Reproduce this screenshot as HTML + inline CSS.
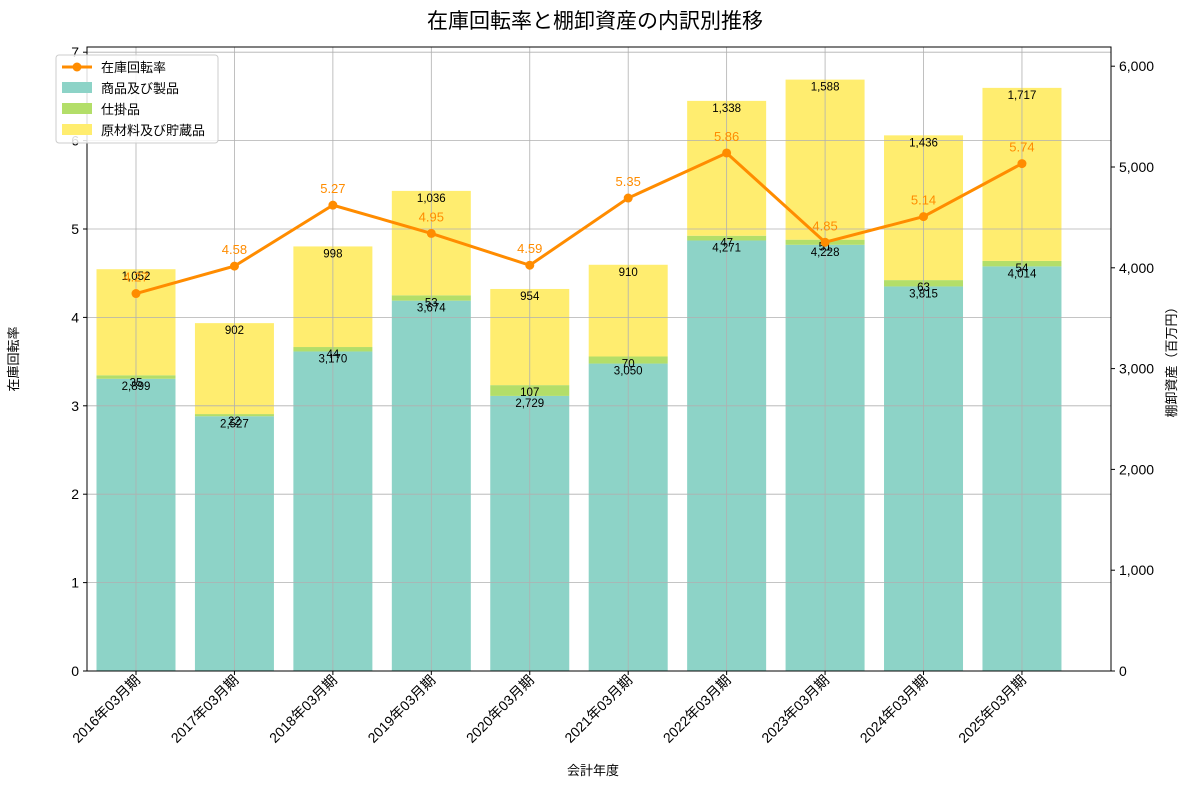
<!DOCTYPE html>
<html><head><meta charset="utf-8"><style>
body{margin:0;background:#fff;font-family:"Liberation Sans","Noto Sans CJK JP",sans-serif;}
svg text{font-family:"Liberation Sans","Noto Sans CJK JP",sans-serif;}
</style></head><body>
<svg id="chart" width="1190" height="789" xmlns="http://www.w3.org/2000/svg">
<text x="595" y="28" font-size="21" text-anchor="middle">在庫回転率と棚卸資産の内訳別推移</text>
<g id="bars"></g><g id="grid"></g><g id="line"></g><g id="axes"></g>
<text x="18" y="359" font-size="13" text-anchor="middle" transform="rotate(-90 18 359)">在庫回転率</text>
<text x="1176" y="359" font-size="13" text-anchor="middle" transform="rotate(-90 1176 359)">棚卸資産（百万円）</text>
<text x="593" y="775" font-size="13" text-anchor="middle">会計年度</text>
<g>
<rect x="56" y="55" width="162" height="88" fill="#fff" fill-opacity="0.85" stroke="#ccc" rx="3"/>
<line x1="62" y1="67" x2="92" y2="67" stroke="#ff8c00" stroke-width="3"/><circle cx="77" cy="67" r="4.5" fill="#ff8c00"/>
<text x="101" y="72" font-size="13">在庫回転率</text>
<rect x="62" y="82" width="30" height="11" fill="#8dd3c7"/><text x="101" y="93" font-size="13">商品及び製品</text>
<rect x="62" y="103" width="30" height="11" fill="#b3de69"/><text x="101" y="114" font-size="13">仕掛品</text>
<rect x="62" y="124" width="30" height="11" fill="#ffed6f"/><text x="101" y="135" font-size="13">原材料及び貯蔵品</text>
</g>
</svg>
<script>
const categories=["2016年03月期","2017年03月期","2018年03月期","2019年03月期","2020年03月期","2021年03月期","2022年03月期","2023年03月期","2024年03月期","2025年03月期"];
const goods=[2899,2527,3170,3674,2729,3050,4271,4228,3815,4014];
const wip=[35,22,44,53,107,70,47,51,63,54];
const raw=[1052,902,998,1036,954,910,1338,1588,1436,1717];
const turnover=[4.27,4.58,5.27,4.95,4.59,5.35,5.86,4.85,5.14,5.74];
const leftTicks=[0,1,2,3,4,5,6,7];
const rightTicks=[0,1000,2000,3000,4000,5000,6000];
const NS="http://www.w3.org/2000/svg";
const L=87,R=1111,T=47,B=671;
const xs=i=>136+98.44*i;
const yL=v=>B-v*88.4;
const yR=v=>B-v*0.1008;
const bw=79;
function mk(tag,attrs,parent,text){const e=document.createElementNS(NS,tag);for(const k in attrs)e.setAttribute(k,attrs[k]);if(text!==undefined)e.textContent=text;document.getElementById(parent).appendChild(e);return e;}
const fmt=v=>v.toLocaleString('en-US');
leftTicks.forEach(v=>{const g=mk('line',{x1:L,x2:R,y1:yL(v),y2:yL(v),stroke:'#b0b0b0','stroke-width':0.8},'grid');


const t=mk('text',{x:L-8,y:yL(v)+5,'font-size':14,'text-anchor':'end'},'axes',String(v));


mk('line',{x1:L-4,x2:L,y1:yL(v),y2:yL(v),stroke:'#000'},'axes');});
rightTicks.forEach(v=>{const t=mk('text',{x:R+8,y:yR(v)+5,'font-size':14},'axes',fmt(v));


mk('line',{x1:R,x2:R+4,y1:yR(v),y2:yR(v),stroke:'#000'},'axes');});
categories.forEach((c,i)=>{const x=xs(i);
const g=mk('line',{x1:x,x2:x,y1:T,y2:B,stroke:'#b0b0b0','stroke-width':0.8},'grid');


mk('line',{x1:x,x2:x,y1:B,y2:B+4,stroke:'#000'},'axes');
const t=mk('text',{x:x+5,y:B+10,'font-size':14,'text-anchor':'end',transform:`rotate(-45 ${x+5} ${B+10})`},'axes',c);


const segs=[[goods[i],'#8dd3c7','bar-goods'],[wip[i],'#b3de69','bar-wip'],[raw[i],'#ffed6f','bar-raw']];
let base=0;
segs.forEach(s=>{const top=base+s[0];
const r=mk('rect',{x:x-bw/2,y:yR(top),width:bw,height:yR(base)-yR(top),fill:s[1]},'bars');


base=top;});
base=0;
segs.forEach(s=>{const top=base+s[0];
const t=mk('text',{x:x,y:yR(top)+11,'font-size':11.5,'text-anchor':'middle'},'line',fmt(s[0]));


base=top;});
});
const pts=turnover.map((v,i)=>xs(i)+','+yL(v)).join(' ');
const pl=mk('polyline',{points:pts,fill:'none',stroke:'#ff8c00','stroke-width':3},'line');


turnover.forEach((v,i)=>{const c=mk('circle',{cx:xs(i),cy:yL(v),r:4.5,fill:'#ff8c00'},'line');


const t=mk('text',{x:xs(i),y:yL(v)-12,'font-size':13,'text-anchor':'middle',fill:'#ff8c00'},'line',v.toFixed(2));

});
const fr=mk('rect',{x:L,y:T,width:R-L,height:B-T,fill:'none',stroke:'#000','stroke-width':1},'axes');


</script>
</body></html>
